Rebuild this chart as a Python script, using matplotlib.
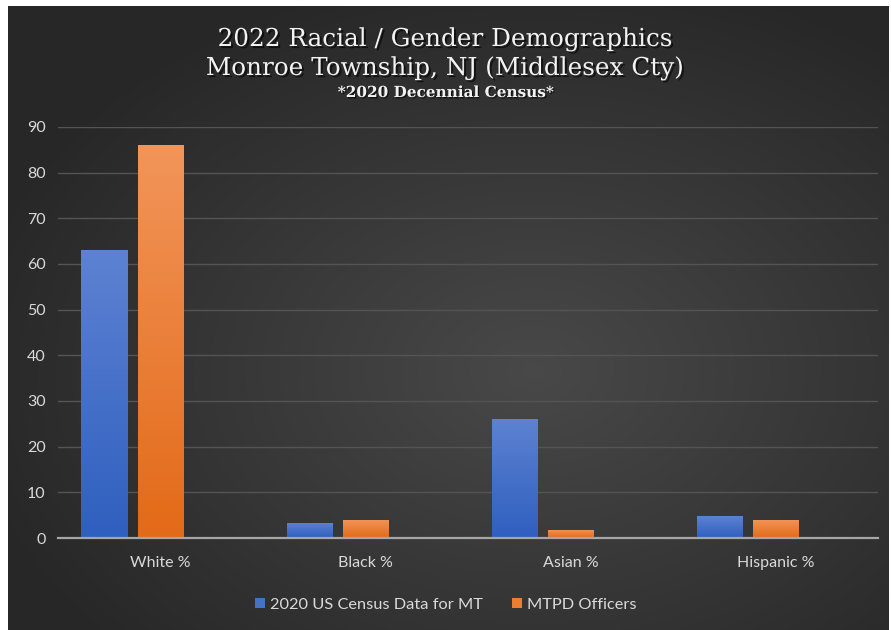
import numpy as np
import matplotlib
matplotlib.use("Agg")
import matplotlib.pyplot as plt
import matplotlib.patheffects as pe
from matplotlib.patches import Patch

# Data
categories = ["White %", "Black %", "Asian %", "Hispanic %"]
census = [63, 3.3, 26, 4.8]
officers = [86, 4, 1.8, 4]
series_names = ["2020 US Census Data for MT", "MTPD Officers"]

title_lines = ["2022 Racial / Gender Demographics", "Monroe Township, NJ (Middlesex Cty)"]
subtitle = "*2020 Decennial Census*"

blue_top, blue_bot = "#5d82d2", "#2f5fbf"
orange_top, orange_bot = "#f2955a", "#e36a18"
text_gray = "#d9d9d9"

fig = plt.figure(figsize=(8.91, 6.30), dpi=100, facecolor="white")

# Dark radial-gradient chart background (white border around it)
bg = fig.add_axes([8 / 891, 0, 881 / 891, 624 / 630])
bg.set_axis_off()
yy, xx = np.mgrid[0:300, 0:420]
cx, cy = 250, 175
r = np.sqrt(((xx - cx) / 420) ** 2 + ((yy - cy) / 300) ** 2)
r = np.clip(r / 0.65, 0, 1)
g = 0.285 - 0.13 * r
bg.imshow(np.dstack([g, g, g]), aspect="auto", extent=[0, 1, 0, 1])
bg.set_xlim(0, 1)
bg.set_ylim(0, 1)

ax = fig.add_axes([58 / 891, 92 / 630, 820 / 891, 411 / 630])
ax.patch.set_alpha(0)

x = np.arange(len(categories))
step = 56 / 205
w = 46 / 205
b1 = ax.bar(x - step, census, w, color=blue_bot, zorder=3, label=series_names[0])
b2 = ax.bar(x, officers, w, color=orange_bot, zorder=3, label=series_names[1])


def grad_fill(bars, top, bot):
    c_top = np.array(matplotlib.colors.to_rgb(top))
    c_bot = np.array(matplotlib.colors.to_rgb(bot))
    t = np.linspace(0, 1, 256)[:, None]
    img = (c_top * (1 - t) + c_bot * t)[:, None, :]
    for bar in bars:
        bx, by = bar.get_x(), bar.get_y()
        bw, bh = bar.get_width(), bar.get_height()
        im = ax.imshow(img, extent=[bx, bx + bw, by, by + bh], aspect="auto",
                       zorder=4, origin="upper")
        im.set_clip_path(bar)


grad_fill(b1, blue_top, blue_bot)
grad_fill(b2, orange_top, orange_bot)

ax.set_xlim(-0.5, len(categories) - 0.5)
ax.set_ylim(0, 90)
ax.set_yticks(np.arange(0, 91, 10))
ax.set_xticks(x)
ax.set_xticklabels(categories)
ax.grid(axis="y", color="#545454", linewidth=1, zorder=1)
for s in ["top", "right", "left"]:
    ax.spines[s].set_visible(False)
ax.spines["bottom"].set_color("#a6a6a6")
ax.spines["bottom"].set_linewidth(1.6)
ax.spines["bottom"].set_zorder(5)
ax.tick_params(axis="both", length=0, colors=text_gray, labelsize=11.5)
ax.tick_params(axis="y", pad=9)
ax.tick_params(axis="x", pad=13)
for lbl in ax.get_xticklabels() + ax.get_yticklabels():
    lbl.set_fontfamily("Lato")

for i, line in enumerate(title_lines):
    t = fig.text(0.5, 1 - (46 + 29 * i) / 630, line, ha="center", va="baseline",
                 fontsize=17.8, family="DejaVu Serif", color="#f2f2f2")
    t.set_path_effects([pe.withSimplePatchShadow(offset=(1.5, -1.5), shadow_rgbFace="black", alpha=0.6)])
st = fig.text(0.5, 1 - 97 / 630, subtitle, ha="center", va="baseline",
              fontsize=11, fontweight="bold", family="DejaVu Serif", color="#f2f2f2")
st.set_path_effects([pe.withSimplePatchShadow(offset=(1, -1), shadow_rgbFace="black", alpha=0.6)])

handles = [Patch(facecolor="#4472c4"), Patch(facecolor="#ed7d31")]
leg = fig.legend(handles, series_names, loc="center", bbox_to_anchor=(0.5, 25 / 630),
                 ncol=2, frameon=False, handlelength=0.6, handleheight=0.6,
                 handletextpad=0.3, columnspacing=1.8,
                 prop={"family": "Lato", "size": 11.8})
for txt in leg.get_texts():
    txt.set_color(text_gray)

fig.savefig("out.png", dpi=100, facecolor="white")
